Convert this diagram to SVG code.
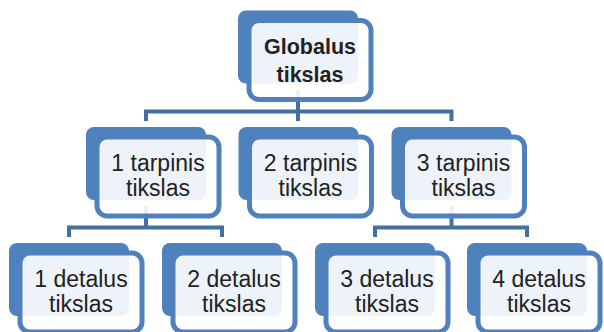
<svg xmlns="http://www.w3.org/2000/svg" width="604" height="332" viewBox="0 0 604 332">
  <style>
    .back { fill: #4F81BD; }
    .front { fill: #FFFFFF; fill-opacity: 0.9; stroke: #4F81BD; stroke-width: 5; }
    .wire { fill: none; stroke: #44709F; stroke-width: 4; stroke-linejoin: miter; }
    .label { font-family: "Liberation Sans", Arial, sans-serif; font-size: 23px; fill: #222222; text-anchor: middle; }
    .bold { font-weight: bold; font-size: 21.5px; }
  </style>
  <defs>
    <!-- one hierarchy box: solid back plate with a framed, see-through front card -->
    <g id="box">
      <rect class="back" x="0" y="0" width="120" height="73" rx="8"/>
      <rect class="front" x="11" y="10" width="122" height="79" rx="10"/>
    </g>
  </defs>

  <!-- connectors -->
  <g id="connectors">
    <path class="wire" d="M298 90 V111.5 M146 121 V111.5 H451.5 V121 M298 111.5 V121"/>
    <path class="wire" d="M146 206 V227.5 M69 237 V227.5 H222 V237"/>
    <path class="wire" d="M451.5 206 V227.5 M375 237 V227.5 H527 V237"/>
  </g>

  <g id="node-global">
    <use href="#box" x="238" y="10.5"/>
    <text class="label bold" x="310" y="54">Globalus</text>
    <text class="label bold" x="310" y="81.5">tikslas</text>
  </g>

  <g id="node-mid-1">
    <use href="#box" x="86" y="127"/>
    <text class="label" x="158" y="171">1 tarpinis</text>
    <text class="label" x="158" y="196">tikslas</text>
  </g>
  <g id="node-mid-2">
    <use href="#box" x="238.5" y="127"/>
    <text class="label" x="310.5" y="171">2 tarpinis</text>
    <text class="label" x="310.5" y="196">tikslas</text>
  </g>
  <g id="node-mid-3">
    <use href="#box" x="391.5" y="127"/>
    <text class="label" x="463.5" y="171">3 tarpinis</text>
    <text class="label" x="463.5" y="196">tikslas</text>
  </g>

  <g id="node-det-1">
    <use href="#box" x="9" y="243"/>
    <text class="label" x="81" y="287">1 detalus</text>
    <text class="label" x="81" y="312">tikslas</text>
  </g>
  <g id="node-det-2">
    <use href="#box" x="162" y="243"/>
    <text class="label" x="234" y="287">2 detalus</text>
    <text class="label" x="234" y="312">tikslas</text>
  </g>
  <g id="node-det-3">
    <use href="#box" x="315" y="243"/>
    <text class="label" x="387" y="287">3 detalus</text>
    <text class="label" x="387" y="312">tikslas</text>
  </g>
  <g id="node-det-4">
    <use href="#box" x="467" y="243"/>
    <text class="label" x="539" y="287">4 detalus</text>
    <text class="label" x="539" y="312">tikslas</text>
  </g>
</svg>
